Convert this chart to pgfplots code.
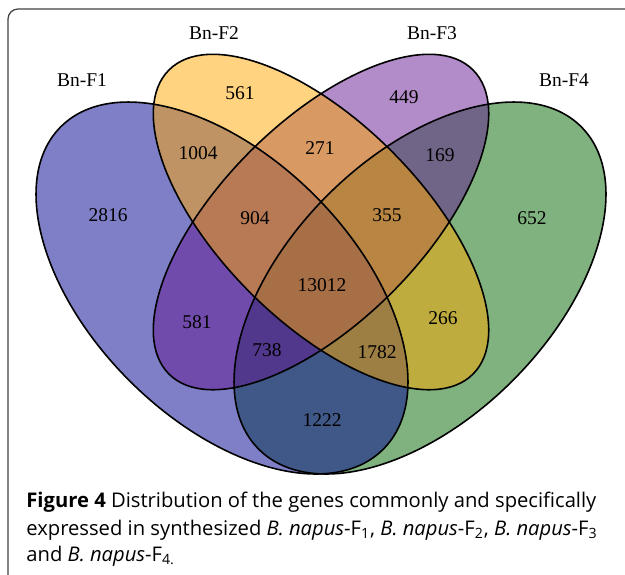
\documentclass[border=0pt]{standalone}
\usepackage{fontspec}
\setmainfont{Liberation Serif}
\newfontfamily\capfont{Open Sans}
\usepackage{pgfplots}
\usepackage{pgfplotstable}
\pgfplotsset{compat=1.18}

% base colours, laid on white at half opacity
\definecolor{cone}{RGB}{0,0,145}
\definecolor{ctwo}{RGB}{255,167,0}
\definecolor{cthree}{RGB}{101,25,145}
\definecolor{cfour}{RGB}{0,101,0}

% region counts, placed in pixel coordinates of the figure
\pgfplotstableread{
x   y   n
240 93  561
404 97  449
198 153 1004
320 148 271
440 155 169
108 215 2816
255 218 904
387 215 355
532 218 652
322 285 13012
197 322 581
443 318 266
267 350 738
377 352 1782
322 420 1222
}\counts

\pgfplotstableread{
x   y   n
82  80  Bn-F1
214 33  Bn-F2
432 33  Bn-F3
564 80  Bn-F4
}\setnames

\begin{document}
\begin{tikzpicture}
\begin{axis}[
    at={(0,0)}, anchor=south west,
    width=312.5pt, height=287pt, scale only axis,
    xmin=0, xmax=625, ymin=0, ymax=574,
    y dir=reverse,
    hide axis, clip=true,
]
% frame (runs off the right and bottom edge)
\draw[line width=0.6pt, black!75, rounded corners=5pt]
    (axis cs:8,9) rectangle (axis cs:680,620);

% fills, in drawing order F4, F1, F3, F2
\fill[cfour, fill opacity=0.5, rotate around={45:(axis cs:420,288)}]
    (axis cs:420,288) ellipse [x radius=114pt, y radius=65.5pt];
\fill[cone, fill opacity=0.5, rotate around={-45:(axis cs:222,288)}]
    (axis cs:222,288) ellipse [x radius=114pt, y radius=65.5pt];
\fill[cthree, fill opacity=0.5, rotate around={45:(axis cs:321,222)}]
    (axis cs:321,222) ellipse [x radius=107.5pt, y radius=50pt];
\fill[ctwo, fill opacity=0.5, rotate around={-45:(axis cs:321,222)}]
    (axis cs:321,222) ellipse [x radius=107.5pt, y radius=50pt];

% outlines
\draw[line width=0.8pt, rotate around={45:(axis cs:420,288)}]
    (axis cs:420,288) ellipse [x radius=114pt, y radius=65.5pt];
\draw[line width=0.8pt, rotate around={-45:(axis cs:222,288)}]
    (axis cs:222,288) ellipse [x radius=114pt, y radius=65.5pt];
\draw[line width=0.8pt, rotate around={45:(axis cs:321,222)}]
    (axis cs:321,222) ellipse [x radius=107.5pt, y radius=50pt];
\draw[line width=0.8pt, rotate around={-45:(axis cs:321,222)}]
    (axis cs:321,222) ellipse [x radius=107.5pt, y radius=50pt];

\addplot[draw=none, mark=none, nodes near coords, point meta=explicit symbolic,
    nodes near coords align={center},
    every node near coord/.append style={font=\fontsize{9.75}{11}\selectfont, inner sep=0pt}]
    table[x=x, y=y, meta=n] {\counts};
\addplot[draw=none, mark=none, nodes near coords, point meta=explicit symbolic,
    nodes near coords align={center},
    every node near coord/.append style={font=\fontsize{9.75}{11}\selectfont, inner sep=0pt}]
    table[x=x, y=y, meta=n] {\setnames};

% caption
\begin{scope}[every node/.style={anchor=base west, inner sep=0pt,
    font=\capfont\fontsize{10.1}{12}\selectfont}]
\node at (axis cs:26,507) {\textbf{Figure 4} Distribution of the genes commonly and specifically};
\node at (axis cs:26,535) {expressed in synthesized \textit{B.~napus}-F\textsubscript{1}, \textit{B.~napus}-F\textsubscript{2}, \textit{B.~napus}-F\textsubscript{3}};
\node at (axis cs:26,561) {and \textit{B.~napus}-F\textsubscript{4.}};
\end{scope}
\end{axis}
\pgfresetboundingbox
\path (0,0) rectangle (312.5pt,287pt);
\end{tikzpicture}
\end{document}
